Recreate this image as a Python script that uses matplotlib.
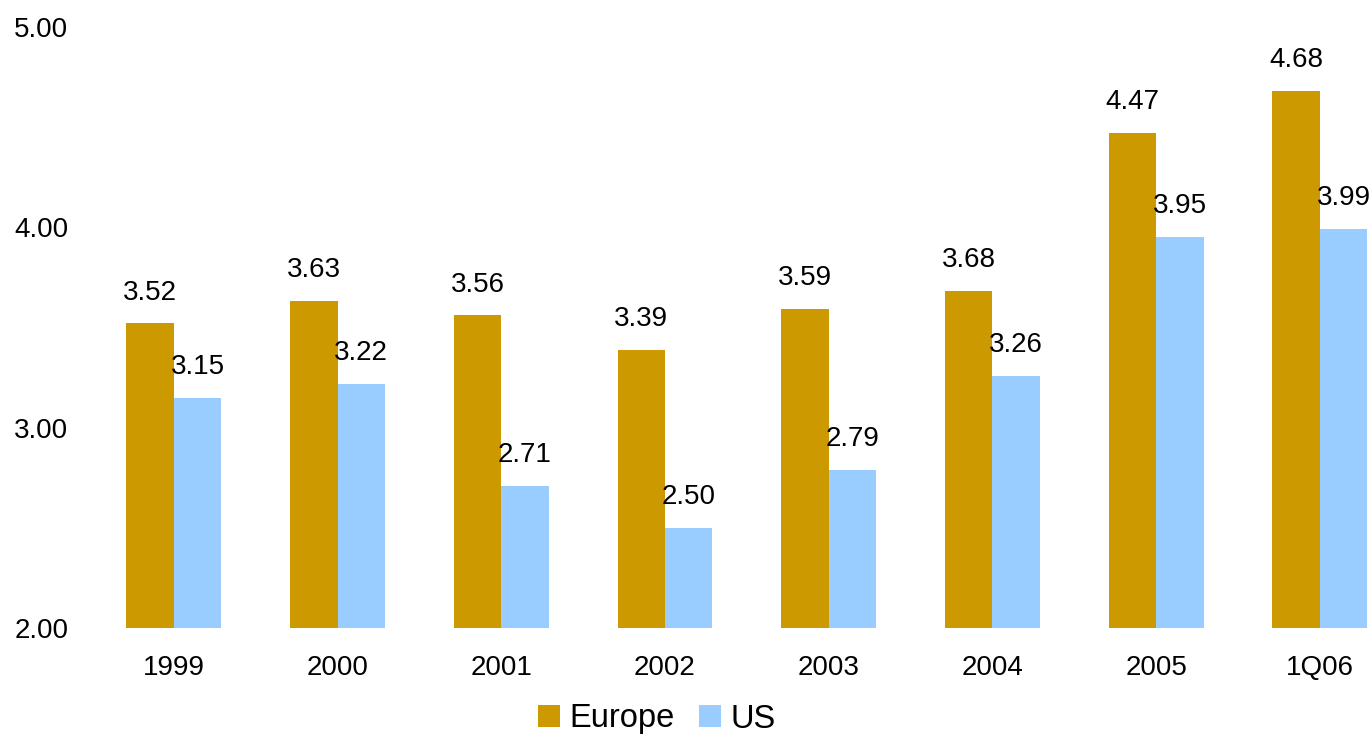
import matplotlib
matplotlib.use("Agg")
import matplotlib.pyplot as plt
import numpy as np

categories = ["1999", "2000", "2001", "2002", "2003", "2004", "2005", "1Q06"]
europe = [3.52, 3.63, 3.56, 3.39, 3.59, 3.68, 4.47, 4.68]
us = [3.15, 3.22, 2.71, 2.50, 2.79, 3.26, 3.95, 3.99]
yticks = [2.0, 3.0, 4.0, 5.0]

plt.rcParams['font.family'] = ['Liberation Sans', 'DejaVu Sans']

W, H = 1372, 736
fig = plt.figure(figsize=(W / 100, H / 100), dpi=100)
left, right = 92, 1401.7
top, bottom = 27, 628
ax = fig.add_axes([left / W, 1 - bottom / H, (right - left) / W, (bottom - top) / H])

x = np.arange(len(categories))
bw = 0.29
c_eu = "#CC9900"
c_us = "#99CCFF"
b1 = ax.bar(x - bw / 2, [v - 2.0 for v in europe], bw, bottom=2.0, color=c_eu, label="Europe")
b2 = ax.bar(x + bw / 2, [v - 2.0 for v in us], bw, bottom=2.0, color=c_us, label="US")

fs = 20
for xi, v in zip(x, europe):
    ax.annotate(f"{v:.2f}", (xi - bw / 2, v), xytext=(0, 22.3), textcoords="offset points",
                ha="center", va="center", fontsize=fs, annotation_clip=False)
for xi, v in zip(x, us):
    ax.annotate(f"{v:.2f}", (xi + bw / 2, v), xytext=(0, 22.3), textcoords="offset points",
                ha="center", va="center", fontsize=fs, annotation_clip=False)

ax.set_xlim(-0.5, len(categories) - 0.5)
ax.set_ylim(2.0, 5.0)
ax.set_yticks(yticks)
ax.set_yticklabels([f"{t:.2f}" for t in yticks])
ax.set_xticks(x)
ax.set_xticklabels(categories)
ax.tick_params(axis="y", length=0, pad=17, labelsize=fs)
ax.tick_params(axis="x", length=0, pad=19.5, labelsize=fs)
for s in ax.spines.values():
    s.set_visible(False)

fig.legend(handles=[b1, b2], labels=["Europe", "US"], loc="center",
           bbox_to_anchor=(657 / W, 1 - 719 / H), ncol=2, frameon=False,
           fontsize=23.5, handlelength=0.675, handleheight=0.675,
           handletextpad=0.28, columnspacing=0.75, borderpad=0, borderaxespad=0)

fig.savefig("out.png", dpi=100)
